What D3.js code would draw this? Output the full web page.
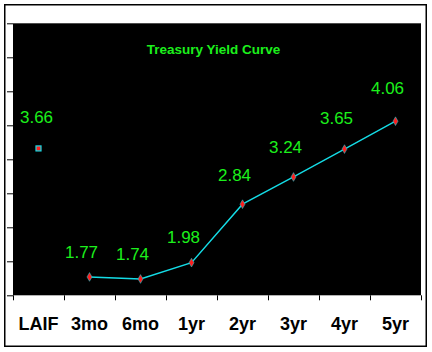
<!DOCTYPE html>
<html>
<head>
<meta charset="utf-8">
<script src="https://cdn.jsdelivr.net/npm/d3@7"></script>
<style>
  body { margin: 0; background: #fff; }
  #chart { width: 432px; height: 352px; }
</style>
</head>
<body>
<div id="chart"></div>
<script>
// data
let categories = ["LAIF", "3mo", "6mo", "1yr", "2yr", "3yr", "4yr", "5yr"];
let laifValue = 3.66;
let curveTerms = ["3mo", "6mo", "1yr", "2yr", "3yr", "4yr", "5yr"];
let curveValues = [1.77, 1.74, 1.98, 2.84, 3.24, 3.65, 4.06];
let yTicks = [1.5, 2, 2.5, 3, 3.5, 4, 4.5, 5, 5.5];
let chartTitle = "Treasury Yield Curve";

function drawYieldCurve() {
    let div_id = "#chart";
    let win_width = 432, win_height = 352;

    let margin = {top: 23.3, right: 11, bottom: 56.7, left: 13};
    let width = win_width - margin.left - margin.right;
    let height = win_height - margin.top - margin.bottom;

    let green = "#1cf01c";
    let cyan = "#14dce6";
    let red = "#ff1e1e";

    let svg = d3.select(div_id)
        .append("svg")
        .attr("width", win_width)
        .attr("height", win_height);

    // outer frame
    svg.append("rect")
        .attr("x", 4.75).attr("y", 4.75)
        .attr("width", 421.5).attr("height", 341.5)
        .attr("fill", "#fff")
        .attr("stroke", "#000")
        .attr("stroke-width", 1.5);

    let g = svg.append("g")
        .attr("transform", "translate(" + margin.left + "," + margin.top + ")");

    // black plot area
    g.append("rect")
        .attr("width", width).attr("height", height)
        .attr("fill", "#000");

    let x = d3.scaleBand().domain(categories).range([0, width]).padding(0);
    let edge = d3.scaleLinear().domain([0, categories.length]).range([0, width]);
    let y = d3.scaleLinear().domain([1.5, 5.5]).range([height, 0]);
    // value labels sit on a slightly stretched scale in the original
    let yLab = d3.scaleLinear().domain([1.5, 5.5]).range([height - 18, height - 18 - 286]);

    // y ticks (no labels)
    g.append("g")
        .call(d3.axisLeft(y).tickValues(yTicks).tickSize(6).tickFormat(""))
        .call(a => a.select(".domain").remove())
        .selectAll("line").attr("stroke", "#000");

    // x tick marks at category boundaries
    g.append("g")
        .attr("transform", "translate(0," + height + ")")
        .call(d3.axisBottom(edge).tickValues(d3.range(categories.length + 1)).tickSize(5).tickFormat(""))
        .call(a => a.select(".domain").remove())
        .selectAll("line").attr("stroke", "#000");

    // category labels
    g.selectAll(".cat")
        .data(categories)
        .join("text")
        .attr("class", "cat")
        .attr("x", d => x(d) + x.bandwidth() / 2)
        .attr("y", height + 34.7)
        .attr("text-anchor", "middle")
        .style("font-family", "Liberation Sans, Arial, sans-serif")
        .style("font-weight", "bold")
        .style("font-size", "18px")
        .attr("fill", "#000")
        .text(d => d);

    // title
    g.append("text")
        .attr("x", width / 2 - 3.5)
        .attr("y", 30.7)
        .attr("text-anchor", "middle")
        .style("font-family", "Liberation Sans, Arial, sans-serif")
        .style("font-weight", "bold")
        .style("font-size", "13.5px")
        .attr("fill", green)
        .text(chartTitle);

    let curve = curveTerms.map((t, i) => ({term: t, value: curveValues[i]}));
    let cx = d => x(d) + x.bandwidth() / 2;

    // yield curve line
    g.append("path")
        .datum(curve)
        .attr("fill", "none")
        .attr("stroke", cyan)
        .attr("stroke-width", 1.4)
        .attr("d", d3.line().x(d => cx(d.term)).y(d => y(d.value)));

    g.selectAll(".pt")
        .data(curve)
        .join("path")
        .attr("class", "pt")
        .attr("transform", d => "translate(" + cx(d.term) + "," + y(d.value) + ")")
        .attr("d", d3.symbol().type(d3.symbolDiamond).size(22))
        .attr("fill", red)
        .attr("stroke", cyan)
        .attr("stroke-width", 0.5);

    // LAIF point
    g.append("rect")
        .attr("x", cx("LAIF") - 2.5)
        .attr("y", y(laifValue) - 2.5)
        .attr("width", 5).attr("height", 5)
        .attr("fill", red)
        .attr("stroke", cyan)
        .attr("stroke-width", 1.2);

    // value labels
    let labels = [{term: "LAIF", value: laifValue}].concat(curve);
    g.selectAll(".val")
        .data(labels)
        .join("text")
        .attr("class", "val")
        .attr("x", d => cx(d.term) - (d.term == "LAIF" ? 2 : 8))
        .attr("y", d => yLab(d.value))
        .attr("text-anchor", "middle")
        .style("font-family", "Liberation Sans, Arial, sans-serif")
        .style("font-size", "17px")
        .attr("fill", green)
        .text(d => d3.format(".2f")(d.value));
}

drawYieldCurve();
</script>
</body>
</html>
